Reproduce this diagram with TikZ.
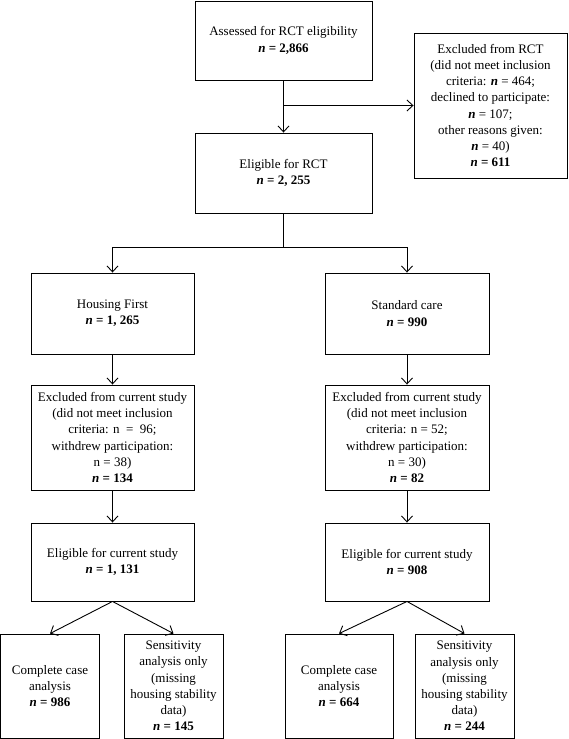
\documentclass[tikz,border=0pt]{standalone}
\usepackage{fontspec}
\setmainfont{Liberation Serif}
\usetikzlibrary{arrows.meta}

\begin{document}
\begin{tikzpicture}[x=1pt, y=-1pt,
        box/.style={draw, line width=0.9pt, align=center, inner sep=1pt, font=\fontsize{13pt}{16.2pt}\selectfont},
        arr/.style={line width=0.9pt, -{Straight Barb[length=6pt, width=11pt]}}]
        \useasboundingbox (0, 0) rectangle (568, 739);

        \node[box, minimum width=177pt, minimum height=79pt] (assess) at (283.5, 40.5) {Assessed for RCT eligibility\\ \textbf{\textit{n} = 2,866}};
        \node[box, minimum width=153pt, minimum height=145pt] (exclrct) at (490.5, 105.5) {Excluded from RCT\\ (did not meet inclusion\\ criteria: \textbf{\textit{n}} = 464;\\ declined to participate:\\ \textbf{\textit{n}} = 107;\\ other reasons given:\\ \textbf{\textit{n}} = 40)\\ \textbf{\textit{n} = 611}};
        \node[box, minimum width=177pt, minimum height=80pt] (eligrct) at (283.5, 173) {Eligible for RCT\\ \textbf{\textit{n} = 2, 255}};

        \node[box, minimum width=163pt, minimum height=81pt] (hf) at (112.5, 313.5) {Housing First\\ \textbf{\textit{n} = 1, 265}};
        \node[box, minimum width=164pt, minimum height=81pt] (sc) at (407, 313.5) {Standard care\\ \textbf{\textit{n} = 990}};

        \node[box, minimum width=163pt, minimum height=105pt] (exclhf) at (112.5, 437.5) {Excluded from current study\\ (did not meet inclusion\\ criteria: n \ = \ 96;\\ withdrew participation:\\ n = 38)\\ \textbf{\textit{n} = 134}};
        \node[box, minimum width=164pt, minimum height=105pt] (exclsc) at (407, 437.5) {Excluded from current study\\ (did not meet inclusion\\ criteria: n = 52;\\ withdrew participation:\\ n = 30)\\ \textbf{\textit{n} = 82}};

        \node[box, minimum width=163pt, minimum height=78pt] (elighf) at (112.5, 562) {Eligible for current study\\ \textbf{\textit{n} = 1, 131}};
        \node[box, minimum width=164pt, minimum height=78pt] (eligsc) at (407, 562) {Eligible for current study\\ \textbf{\textit{n} = 908}};

        \node[box, minimum width=99pt, minimum height=104pt] (cchf) at (50, 686) {Complete case\\ analysis\\ \textbf{\textit{n} = 986}};
        \node[box, minimum width=99pt, minimum height=104pt] (sahf) at (173.5, 686) {Sensitivity\\ analysis only\\ (missing\\ housing stability\\ data)\\ \textbf{\textit{n} = 145}};
        \node[box, minimum width=108pt, minimum height=104pt] (ccsc) at (339, 686) {Complete case\\ analysis\\ \textbf{\textit{n} = 664}};
        \node[box, minimum width=99pt, minimum height=104pt] (sasc) at (464.5, 686) {Sensitivity\\ analysis only\\ (missing\\ housing stability\\ data)\\ \textbf{\textit{n} = 244}};

        \coordinate (split) at (283.5, 247);

        \draw[arr] (assess.south) -- (eligrct.north);
        \draw[arr] (assess.south |- exclrct.west) -- (exclrct.west);
        \draw[line width=0.9pt] (eligrct.south) -- (split);
        \draw[arr] (split) -| (hf.north);
        \draw[arr] (split) -| (sc.north);

        \draw[arr] (hf.south) -- (exclhf.north);
        \draw[arr] (exclhf.south) -- (elighf.north);
        \draw[arr] (sc.south) -- (exclsc.north);
        \draw[arr] (exclsc.south) -- (eligsc.north);

        \draw[arr] (elighf.south) -- (cchf.north);
        \draw[arr] (elighf.south) -- (sahf.north);
        \draw[arr] (eligsc.south) -- (ccsc.north);
        \draw[arr] (eligsc.south) -- (sasc.north);
    \end{tikzpicture}
\end{document}
